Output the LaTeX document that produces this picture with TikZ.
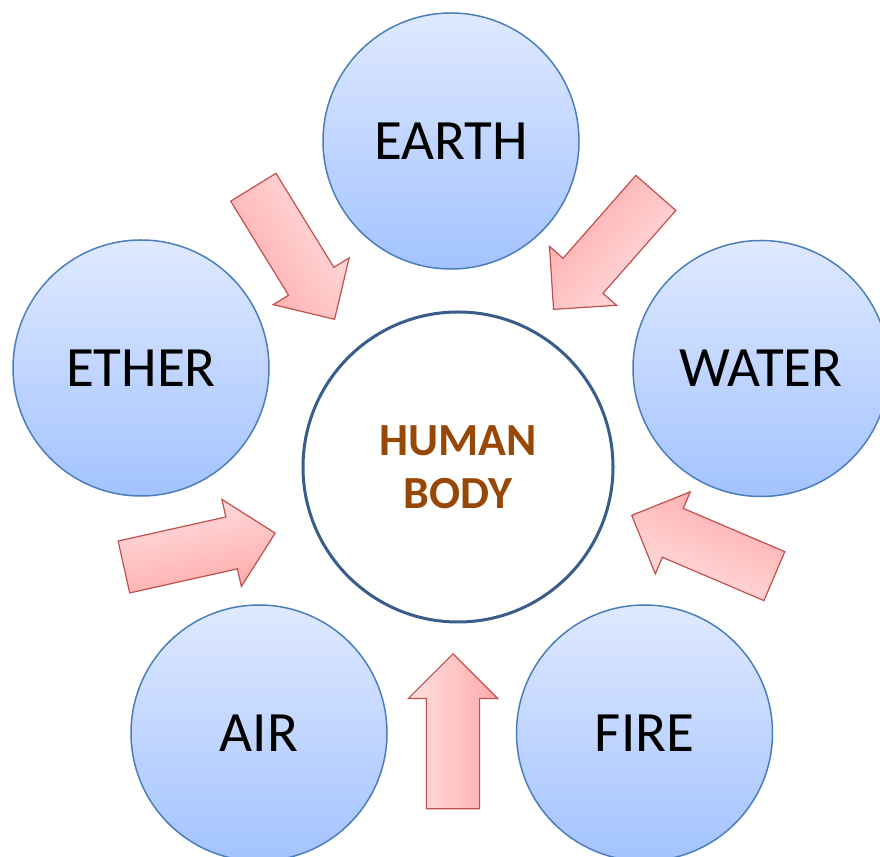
\documentclass[tikz,border=0pt]{standalone}
\usepackage{fontspec}
\setmainfont{Carlito}
\usepackage{tikz}
\usetikzlibrary{shapes.geometric, shapes.arrows, positioning}
\definecolor{elemline}{RGB}{74,126,187}
\definecolor{elemtop}{RGB}{223,233,255}
\definecolor{elembot}{RGB}{163,195,255}
\definecolor{bodyline}{RGB}{56,93,138}
\definecolor{bodytext}{RGB}{152,72,6}
\definecolor{arrowline}{RGB}{192,80,77}
\definecolor{arrowlight}{RGB}{255,224,224}
\definecolor{arrowdark}{RGB}{255,170,170}
\tikzstyle{element} = [circle, minimum size=256pt, inner sep=0pt, draw=elemline, line width=1.5pt, top color=elemtop, bottom color=elembot, font=\fontsize{57}{68}\selectfont]
\tikzstyle{body} = [circle, minimum size=310pt, inner sep=0pt, draw=bodyline, line width=3pt, fill=white, text=bodytext, align=center, font=\bfseries\fontsize{46}{53}\selectfont]
\tikzstyle{arrowbox} = [single arrow, minimum height=155pt, minimum width=88pt, single arrow head extend=18pt, single arrow tip angle=90, inner xsep=0pt, inner ysep=26pt, draw=arrowline, line width=1.2pt, top color=arrowlight, bottom color=arrowdark, anchor=tip]

\begin{document}
\begin{tikzpicture}[x=1pt, y=1pt, node distance=230pt]
\useasboundingbox (0,0) rectangle (880,856);
\clip (0,0) rectangle (880,856);

\node (human) [body] at (458,389) {HUMAN\\BODY};
\node (earth) [element, above of=human, yshift=96pt, xshift=-7pt] {EARTH};
\node (ether) [element, left of=human, xshift=-87pt, yshift=99pt] {ETHER};
\node (water) [element, right of=human, xshift=73pt, yshift=98.5pt] {WATER};
\node (air) [element, below of=human, xshift=-199pt, yshift=-36pt] {AIR};
\node (fire) [element, below of=human, xshift=186.5pt, yshift=-36pt] {FIRE};

% arrows into the body, placed by their tips
\node (arrowtl) [arrowbox, rotate=-58.4, shading angle=-58.4] at (335,536) {};
\node (arrowtr) [arrowbox, rotate=228.7, shading angle=228.7] at (553,546) {};
\node (arrowr) [arrowbox, rotate=156.9, shading angle=156.9] at (631,341) {};
\node (arrowl) [arrowbox, rotate=12.6, shading angle=12.6] at (276,323) {};
\node (arrowb) [arrowbox, rotate=90, shading angle=90] at (453,203) {};

\end{tikzpicture}
\end{document}
